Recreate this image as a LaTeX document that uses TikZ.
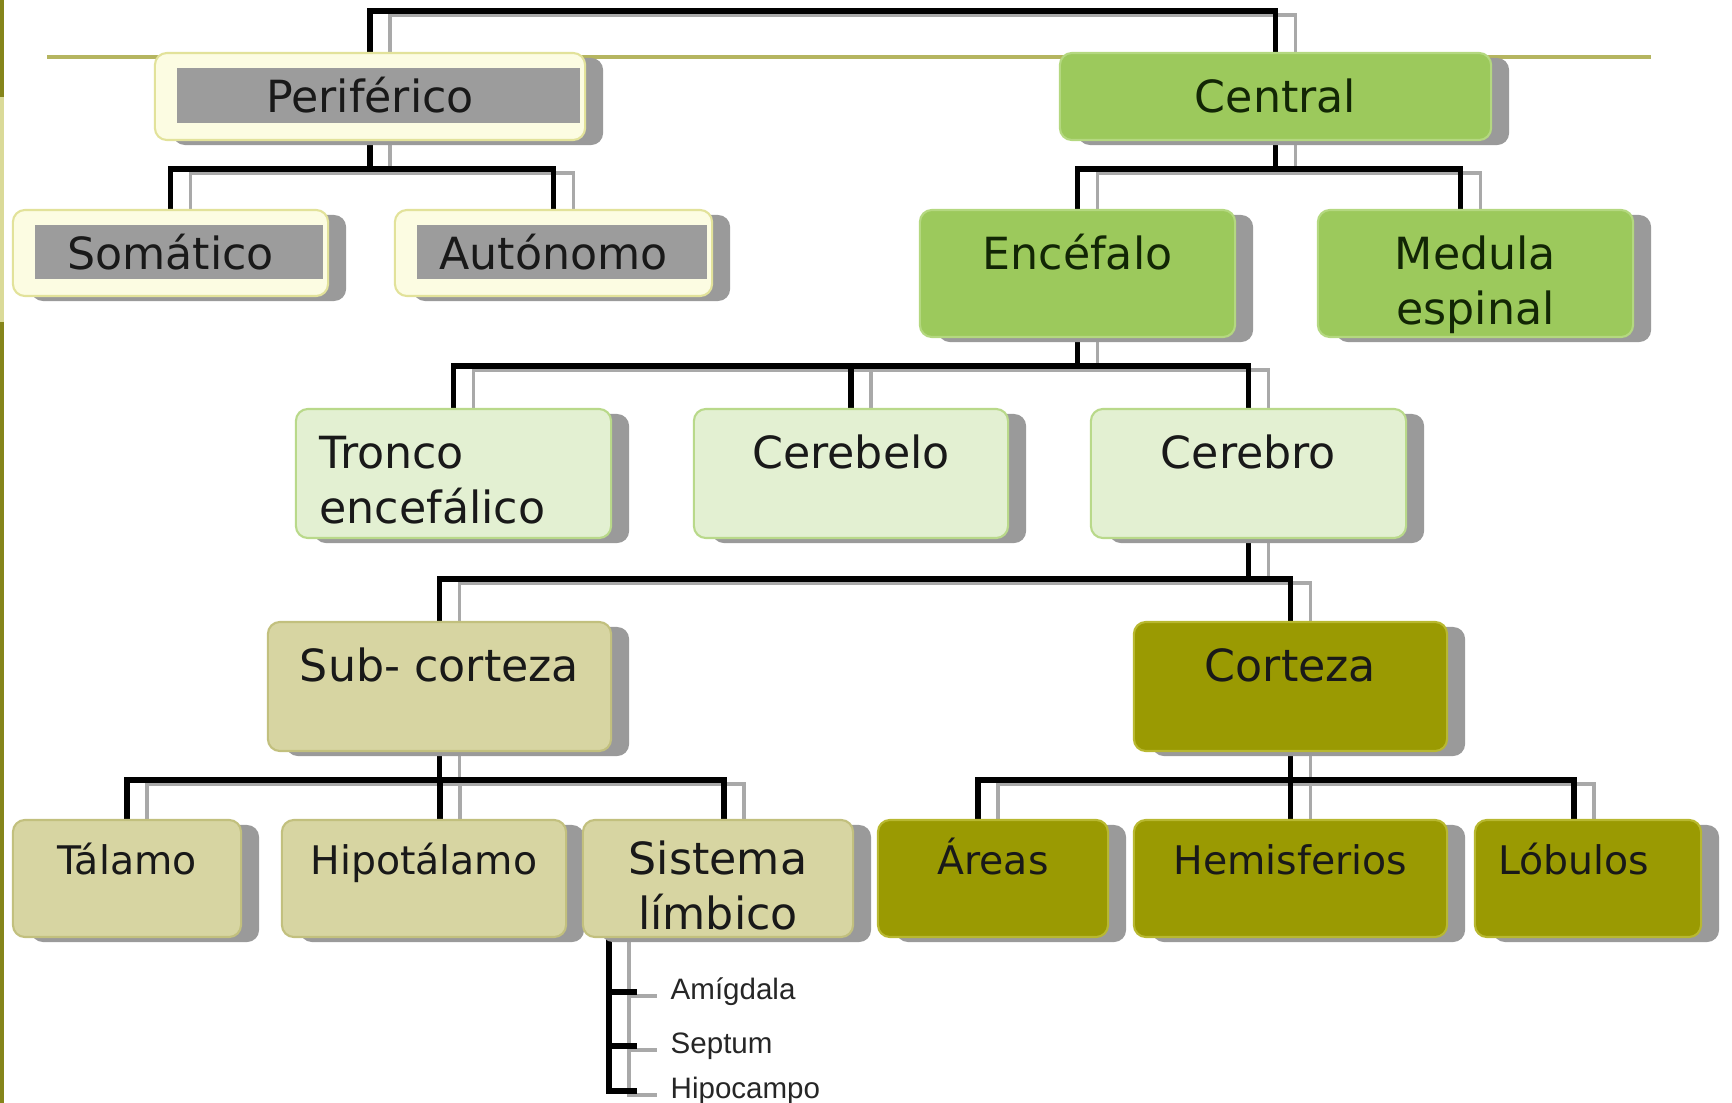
\documentclass[tikz,border=0pt]{standalone}
\usepackage{fontspec}
\setmainfont{DejaVu Sans}
\newfontfamily\leaffont{Liberation Sans}
\usetikzlibrary{calc,shadows,backgrounds}

\definecolor{creamfill}{HTML}{FCFCE2}
\definecolor{creamedge}{HTML}{E2E29A}
\definecolor{innergray}{HTML}{9C9C9C}
\definecolor{boxshadow}{HTML}{9A9A9A}
\definecolor{grnfill}{HTML}{9CC95C}
\definecolor{grnedge}{HTML}{B4D880}
\definecolor{grntext}{HTML}{122605}
\definecolor{palefill}{HTML}{E3F0D2}
\definecolor{paleedge}{HTML}{B9D98A}
\definecolor{tanfill}{HTML}{D7D5A2}
\definecolor{tanedge}{HTML}{C2C07E}
\definecolor{olvfill}{HTML}{9A9A02}
\definecolor{olvedge}{HTML}{B8B830}
\definecolor{rulecol}{HTML}{B5B560}
\definecolor{edgedark}{HTML}{85851A}
\definecolor{edgelight}{HTML}{DADA98}
\definecolor{wiregray}{HTML}{A9A9A9}

\tikzset{
  box/.style={rounded corners=0.12cm, inner sep=0pt, line width=0.6pt,
    drop shadow={shadow xshift=0.18cm, shadow yshift=-0.05cm, fill=boxshadow, opacity=1}},
  sz/.style 2 args={minimum width=#1cm, minimum height=#2cm},
  greybox/.style={box, fill=creamfill, draw=creamedge,
    path picture={\fill[innergray, sharp corners]
      ([shift={(0.22cm,-0.15cm)}]path picture bounding box.north west) rectangle
      ([shift={(-0.05cm,0.17cm)}]path picture bounding box.south east);}},
  greenbox/.style={box, fill=grnfill, draw=grnedge},
  palebox/.style={box, fill=palefill, draw=paleedge},
  tanbox/.style={box, fill=tanfill, draw=tanedge},
  olivebox/.style={box, fill=olvfill, draw=olvedge},
  lbl/.style={anchor=base, inner sep=0pt, align=center, text=black!90},
  bigtxt/.style={lbl, yshift=-0.61cm, font=\fontsize{12.6}{15.65}\selectfont},
  twoline/.style={bigtxt, yshift=-0.55cm},
  smalltxt/.style={lbl, yshift=-0.56cm, font=\fontsize{11.2}{13.9}\selectfont},
  leaf/.style={anchor=west, inner sep=0pt, text=black!85, font=\leaffont\fontsize{8.4}{10}\selectfont}
}

\begin{document}
\begin{tikzpicture}[x=0.01cm, y=-0.01cm]
\useasboundingbox (0,0) rectangle (1732,1103);

% sistema nervioso
\node[greybox, sz={4.30}{0.87}, label={[bigtxt]north:Periférico}] (peri) at (370,96.5) {};
\node[greenbox, sz={4.31}{0.87}, label={[bigtxt, text=grntext]north:Central}] (cent) at (1275.5,96.5) {};

\node[greybox, sz={3.15}{0.86}, label={[bigtxt]north:Somático}] (soma) at (170.5,253) {};
\node[greybox, sz={3.17}{0.86}, label={[bigtxt]north:Autónomo}] (auto) at (553.5,253) {};
\node[greenbox, sz={3.15}{1.27}, label={[bigtxt, text=grntext]north:Encéfalo}] (ence) at (1077.5,273.5) {};
\node[greenbox, sz={3.15}{1.27}, label={[twoline, text=grntext]north:Medula\\espinal}] (medu) at (1475.5,273.5) {};

\node[palebox, sz={3.15}{1.29}, label={[twoline, anchor=base west, align=left, xshift=0.24cm]north west:Tronco\\encefálico}] (tron) at (453.5,473.5) {};
\node[palebox, sz={3.14}{1.29}, label={[bigtxt]north:Cerebelo}] (cebe) at (851,473.5) {};
\node[palebox, sz={3.15}{1.29}, label={[bigtxt]north:Cerebro}] (cebr) at (1248.5,473.5) {};

\node[tanbox, sz={3.43}{1.29}, label={[bigtxt]north:Sub- corteza}] (subc) at (439.5,686.5) {};
\node[olivebox, sz={3.13}{1.29}, label={[bigtxt]north:Corteza}] (cort) at (1290.5,686.5) {};

\node[tanbox, sz={2.28}{1.17}, label={[smalltxt]north:Tálamo}] (tala) at (127,878.5) {};
\node[tanbox, sz={2.84}{1.17}, label={[smalltxt]north:Hipotálamo}] (hipot) at (424,878.5) {};
\node[tanbox, sz={2.70}{1.17}, label={[twoline, yshift=0.05cm]north:Sistema\\límbico}] (sist) at (718,878.5) {};
\node[olivebox, sz={2.30}{1.17}, label={[smalltxt]north:Áreas}] (area) at (993,878.5) {};
\node[olivebox, sz={3.13}{1.17}, label={[smalltxt]north:Hemisferios}] (hemi) at (1290.5,878.5) {};
\node[olivebox, sz={2.26}{1.17}, label={[smalltxt, xshift=-0.14cm]north:Lóbulos}] (lobu) at (1588,878.5) {};

\node[leaf] (amig) at (670,992) {Amígdala};
\node[leaf] (sept) at (670,1046) {Septum};
\node[leaf] (hipoc) at (670,1091) {Hipocampo};

\begin{scope}[on background layer]
  \fill[edgedark] (0,0) rectangle (4,97);
  \fill[edgelight] (0,97) rectangle (4,322);
  \fill[edgedark] (0,322) rectangle (4,1103);
  \draw[rulecol, line width=1pt] (47,57) -- (1651,57);

  % shadow copy first, then the black lines
  \foreach \wc/\lw/\dx/\dy in {wiregray/1.1pt/0.2cm/-0.04cm, black/1.7pt/0cm/0cm} {
    \begin{scope}[color=\wc, line width=\lw, transform canvas={shift={(\dx,\dy)}}]
      \draw (peri.north) -- ++(0,-41) -| (cent.north);
      \foreach \kid in {soma,auto}
        \draw (peri.south) -- ++(0,28) -| (\kid.north);
      \foreach \kid/\off in {ence/0,medu/-15}
        \draw (cent.south) -- ++(0,28) -| ($(\kid.north)+(\off,0)$);
      \foreach \kid in {tron,cebe,cebr}
        \draw (ence.south) -- ++(0,28) -| (\kid.north);
      \foreach \kid in {subc,cort}
        \draw (cebr.south) -- ++(0,40) -| (\kid.north);
      \foreach \kid/\off in {tala/0,hipot/16,sist/6}
        \draw (subc.south) -- ++(0,28) -| ($(\kid.north)+(\off,0)$);
      \foreach \kid/\off in {area/-15,hemi/0,lobu/-14}
        \draw (cort.south) -- ++(0,28) -| ($(\kid.north)+(\off,0)$);
      \foreach \item in {amig,sept,hipoc}
        \draw ($(sist.south west)+(27,0)$) |- ($(\item.west)+(-33,0)$);
    \end{scope}
  }
\end{scope}

\end{tikzpicture}
\end{document}
